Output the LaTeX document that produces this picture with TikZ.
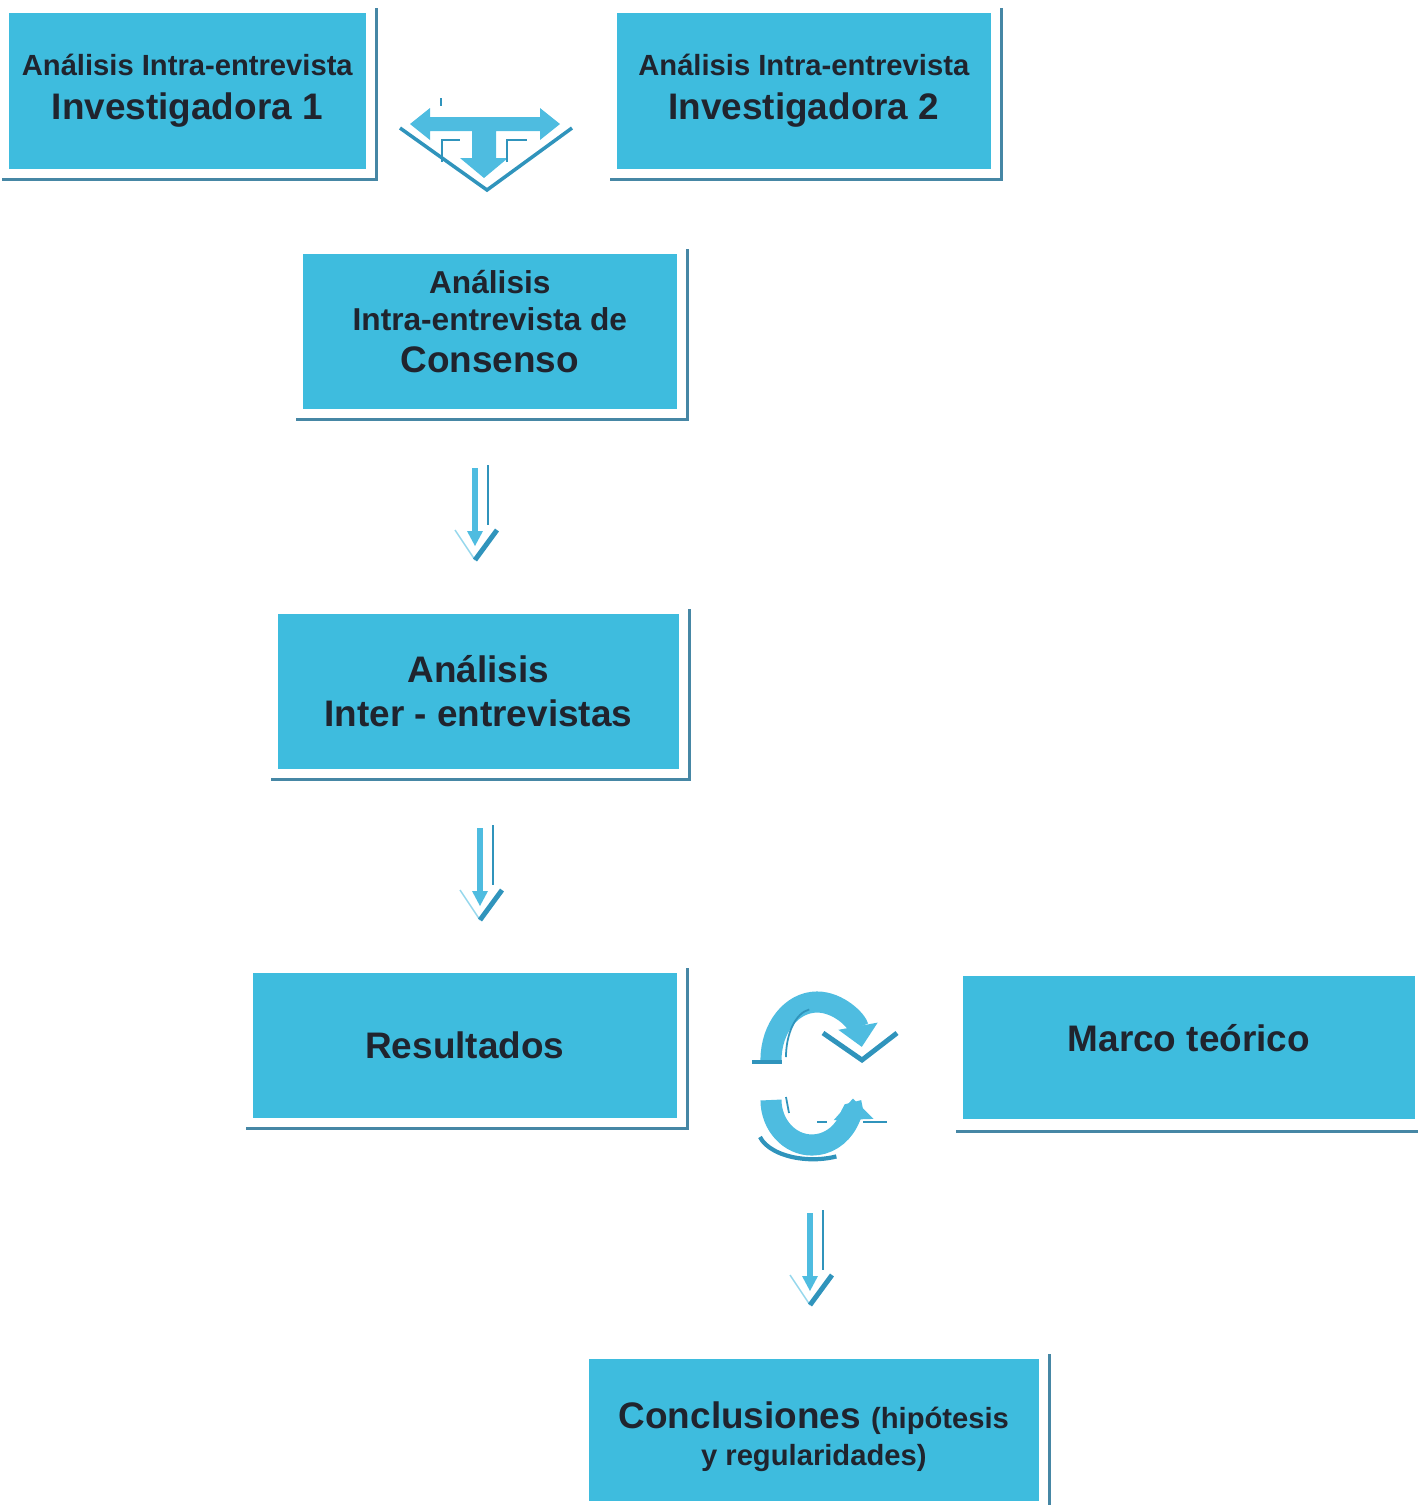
\documentclass[tikz,border=0pt]{standalone}
\usepackage{fontspec}
\setmainfont{Liberation Sans}
\usetikzlibrary{arrows.meta}
\definecolor{celeste}{RGB}{62,188,222}
\definecolor{sombra}{RGB}{70,135,165}
\definecolor{flecha}{RGB}{78,188,224}
\definecolor{flechaosc}{RGB}{48,148,188}
\definecolor{texto}{RGB}{32,36,46}
\newcommand{\letrachica}{\fontsize{8.3}{10}\selectfont}
\newcommand{\letramedia}{\fontsize{9}{10.8}\selectfont}

\tikzset{
  caja/.style={fill=celeste,inner sep=0pt,anchor=north west,align=center,text=texto,
    font=\bfseries\fontsize{10.5}{12.5}\selectfont},
  borde/.style={draw=sombra,line width=0.85pt},
  ciclo/.style={flecha,line width=6pt,-{Triangle[width=11pt,length=6pt]}},
  bajada/.pic={
    \fill[flecha] (-3,0) rectangle (3,65);
    \fill[flecha] (-8,63) -- (8,63) -- (0,78) -- cycle;
    \draw[flechaosc,line width=0.6pt] (13,-3) -- (13,57);
    \draw[flecha!60,line width=0.4pt] (-20,62) -- (0,92);
    \draw[flechaosc,line width=1.4pt] (0,92) -- (22,62);
  }
}

\begin{document}
\begin{tikzpicture}[x=0.01cm,y=-0.01cm]
  \useasboundingbox (0,0) rectangle (1418,1505);
  % cajas
  \node[caja,minimum width=3.57cm,minimum height=1.56cm] (inv1) at (8,12)
    {{\letrachica Análisis Intra-entrevista}\\Investigadora 1};
  \node[caja,minimum width=3.74cm,minimum height=1.56cm] (inv2) at (616,12)
    {{\letrachica Análisis Intra-entrevista}\\Investigadora 2};
  \node[caja,minimum width=3.74cm,minimum height=1.55cm,text height=33.9pt,text depth=10.2pt] (cons) at (302,253)
    {{\letramedia Análisis}\\[-2pt]{\letramedia Intra-entrevista de}\\[-0.5pt]Consenso};
  \node[caja,minimum width=4.01cm,minimum height=1.55cm] (inter) at (277,613)
    {Análisis\\Inter - entrevistas};
  \node[caja,minimum width=4.24cm,minimum height=1.45cm] (res) at (252,972)
    {Resultados};
  \node[caja,minimum width=4.52cm,minimum height=1.43cm,text height=21.6pt,text depth=19.1pt] (marco) at (962,975)
    {Marco teórico};
  \node[caja,minimum width=4.50cm,minimum height=1.42cm,text height=30.4pt,text depth=10pt] (conc) at (588,1358)
    {Conclusiones {\letrachica (hipótesis}\\[-2pt]{\letrachica y regularidades)}};
  % sombras
  \foreach \c in {inv1,inv2,cons,inter,res,conc}
    \draw[borde] ([shift={(10,-4)}]\c.north east) |- ([shift={(-6,10)}]\c.south west);
  \draw[borde] ([shift={(-6,12)}]marco.south west) -- ([shift={(6,12)}]marco.south east);
  % flecha doble entre investigadoras
  \fill[flecha] (410,124) -- (430,108) -- (430,117) -- (540,117) -- (540,108) -- (560,124)
    -- (540,140) -- (540,131) -- (496,131) -- (496,158) -- (508,158) -- (484,178)
    -- (460,158) -- (472,158) -- (472,131) -- (430,131) -- (430,140) -- cycle;
  \draw[flechaosc,line width=1pt] (400,128) -- (487,190) -- (572,128);
  \draw[flechaosc,line width=0.7pt] (442,162) |- (460,140);
  \draw[flechaosc,line width=0.7pt] (507,162) |- (527,140);
  \draw[flechaosc,line width=0.4pt] (441,98) -- (441,106);
  % flechas hacia abajo
  \pic at (475,468) {bajada};
  \pic at (480,828) {bajada};
  \pic at (810,1213) {bajada};
  % ciclo resultados - marco
  \draw[ciclo] (771,1060) arc[start angle=180,end angle=347,x radius=46,y radius=58];
  \draw[flechaosc,line width=1.2pt] (752,1062) -- (782,1062);
  \draw[flechaosc,line width=0.5pt] (786,1057) arc[start angle=180,end angle=262,x radius=27,y radius=48];
  \draw[flechaosc,line width=1.4pt] (823,1033) -- (862,1060) -- (897,1033);
  \draw[ciclo] (771,1100) arc[start angle=180,end angle=-2,x radius=41,y radius=45];
  \draw[flechaosc,line width=1.2pt] (760,1137) arc[start angle=165,end angle=65,x radius=55,y radius=30];
  \draw[flechaosc,line width=0.5pt] (786,1097) -- (789,1113);
  \draw[flechaosc,line width=0.8pt] (817,1122) -- (827,1122);
  \draw[flechaosc,line width=0.8pt] (863,1122) -- (887,1122);
\end{tikzpicture}
\end{document}
